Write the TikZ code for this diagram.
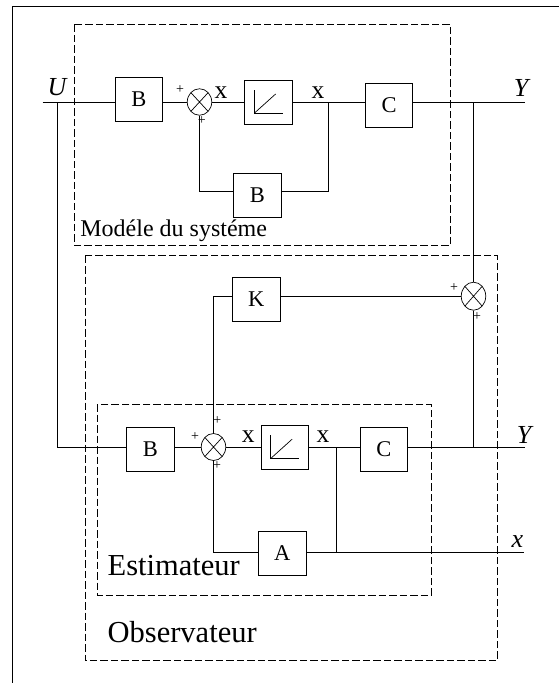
\documentclass[tikz,border=0pt]{standalone}
\usepackage{fontspec}
\setmainfont{Liberation Serif}
\usetikzlibrary{shapes.geometric,calc}
\newcommand\fsz[1]{\fontsize{#1}{#1}\selectfont}
\begin{document}
\begin{tikzpicture}[x=1pt,y=-1pt,line width=0.7pt,
  blk/.style={draw,rectangle,minimum width=47.5pt,minimum height=44pt,inner sep=0pt,font=\fsz{22.5}},
  sumn/.style={draw,ellipse,minimum width=24.5pt,minimum height=26.5pt,inner sep=0pt,
    path picture={\draw (path picture bounding box.north west) -- (path picture bounding box.south east)
      (path picture bounding box.north east) -- (path picture bounding box.south west);}},
  dbox/.style={draw,dash pattern=on 7.5pt off 3pt},
  pl/.style={inner sep=0pt,font=\fsz{14}},
  xl/.style={inner sep=0pt,font=\fsz{25.5}},
  il/.style={inner sep=0pt,anchor=base,font=\fsz{26}\itshape},
  tl/.style={inner sep=0pt,anchor=base west}]
\useasboundingbox (0,0) rectangle (558,683);
% outer frame
\draw (12.3,700) -- (12.3,6.7) -- (580,6.7);
% dashed boxes
\draw[dbox] (74.7,24.3) rectangle (450.3,245.7);
\draw[dbox] (85,255.7) rectangle (497.7,660.3);
\draw[dbox] (97.3,404) rectangle (431.3,595.3);
\node[tl,font=\fsz{24}] (tmod) at (80,236) {Modéle du systéme};
\node[tl,font=\fsz{30.5}] (test) at (107.3,575) {Estimateur};
\node[tl,font=\fsz{30.5}] (tobs) at (107.3,642.7) {Observateur};
% top row (system model)
\coordinate (uin) at (42.7,102);
\coordinate (ju) at (57.7,102);
\coordinate (j1) at (328.7,102);
\coordinate (j2) at (473.5,102);
\coordinate (yout) at (524.7,102);
\node[il] (lu1) at (57,95) {U};
\node[il] (ly1) at (521,96.7) {Y};
\node[blk] (b1) at (139,99) {B};
\node[sumn] (s1) at (199.5,102) {};
\node[blk] (i1) at (268.3,102) {};
\node[blk] (c1) at (389,105.5) {C};
\node[blk] (b2) at (257.3,195.3) {B};
\node[pl] (p1) at (180,90) {+};
\node[pl] (p2) at (201.7,120.7) {+};
\node[xl] (x1) at (221,92.5) {x};
\node[xl] (x2) at (318,92.5) {x};
\draw ($(i1.center)+(-14,-12)$) -- ++(0,23.2) -- ++(28.3,0);
\draw ($(i1.center)+(-14,11.2)$) -- ++(21.3,-19.2);
\coordinate (fbr) at (328.7,191.7);
\coordinate (fbl) at (199.5,191.7);
\draw (uin) -- (b1.west |- uin);
\draw (b1.east |- uin) -- (s1.west);
\draw (s1.east) -- (i1.west);
\draw (i1.east) -- (c1.west |- uin);
\draw (c1.east |- uin) -- (yout);
\draw (j1) -- (fbr) -- (b2.east |- fbr);
\draw (b2.west |- fbr) -- (fbl) -- (s1.south);
% observer gain part
\node[sumn,minimum height=28pt] (s3) at (473.5,296.2) {};
\node[blk] (k) at (256.3,299.3) {K};
\node[pl] (p3) at (454,287.3) {+};
\node[pl] (p4) at (477,316.3) {+};
\coordinate (kl) at (213.5,296.2);
% lower row (estimator)
\coordinate (lu) at (57.7,447);
\coordinate (j3) at (336.3,447);
\coordinate (j4) at (473.5,447);
\coordinate (yout2) at (524.7,447);
\coordinate (ja) at (336.3,552);
\coordinate (xout) at (524,552);
\coordinate (al) at (213.5,552);
\node[blk] (b3) at (150.5,449) {B};
\node[sumn,minimum height=27pt] (s2) at (213.5,447) {};
\node[blk] (i2) at (284.8,447.2) {};
\node[blk] (c2) at (383.8,449) {C};
\node[blk] (a) at (282.3,553.2) {A};
\node[pl] (p5) at (217.3,420.7) {+};
\node[pl] (p6) at (195,436.3) {+};
\node[pl] (p7) at (217,465.3) {+};
\node[xl] (x3) at (248.3,436.7) {x};
\node[xl] (x4) at (323,436.7) {x};
\node[il] (ly2) at (524,443) {Y};
\node[il] (lx) at (517.3,547.7) {x};
\draw ($(i2.center)+(-14,-12)$) -- ++(0,23.2) -- ++(28.3,0);
\draw ($(i2.center)+(-14,11.2)$) -- ++(21.3,-19.2);
\draw (j2) -- (s3.north);
\draw (s3.west) -- (k.east |- s3.west);
\draw (k.west |- kl) -- (kl) -- (s2.north);
\draw (ju) -- (lu) -- (b3.west |- lu);
\draw (b3.east |- lu) -- (s2.west);
\draw (s2.east) -- (i2.west |- s2);
\draw (i2.east |- s2) -- (c2.west |- s2);
\draw (c2.east |- s2) -- (yout2);
\draw (s3.south) -- (j4);
\draw (j3) -- (ja);
\draw (a.east |- ja) -- (xout);
\draw (a.west |- ja) -- (al) -- (s2.south);
\end{tikzpicture}
\end{document}
